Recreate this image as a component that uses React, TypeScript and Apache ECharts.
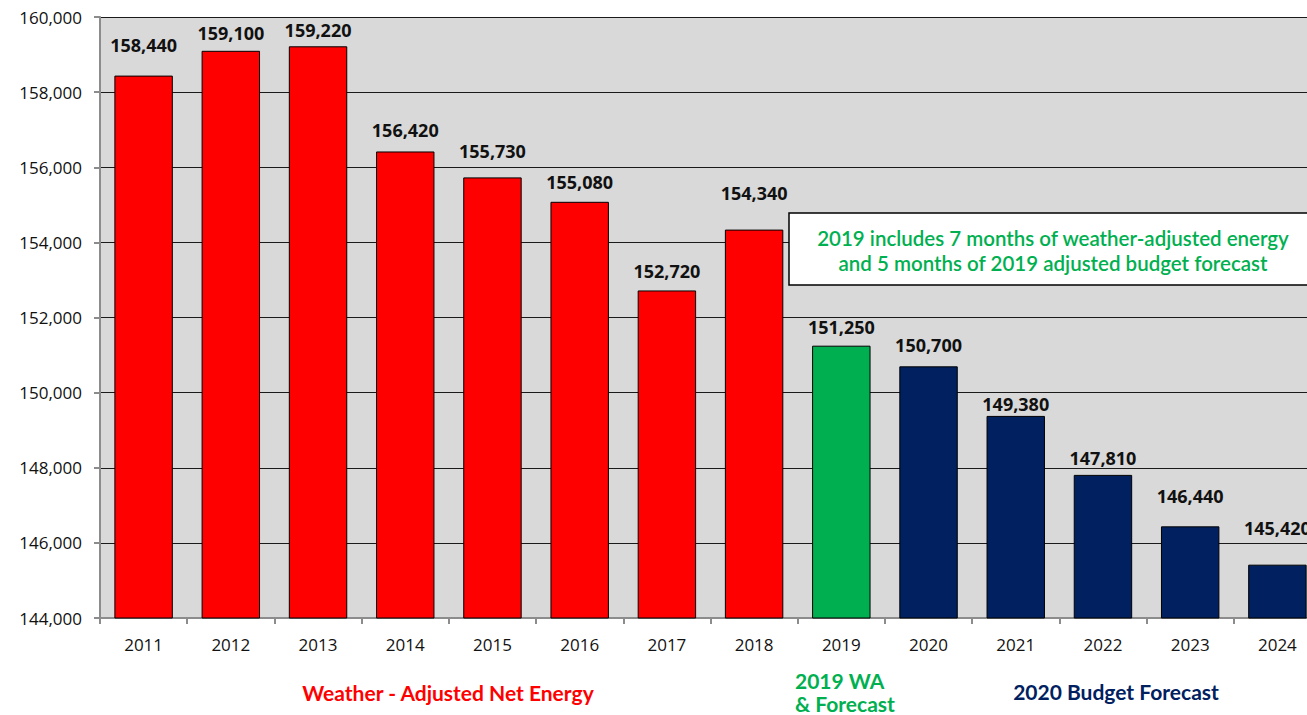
import React, { useEffect, useRef } from "react";
import * as echarts from "echarts";

const years = ["2011", "2012", "2013", "2014", "2015", "2016", "2017", "2018", "2019", "2020", "2021", "2022", "2023", "2024"];
const energy = [158440, 159100, 159220, 156420, 155730, 155080, 152720, 154340, 151250, 150700, 149380, 147810, 146440, 145420];
const groups = ["wa", "wa", "wa", "wa", "wa", "wa", "wa", "wa", "mix", "budget", "budget", "budget", "budget", "budget"];
const groupColors: Record<string, string> = { wa: "#ff0000", mix: "#00b050", budget: "#002060" };
// hand-placed label gaps above each bar (style only)
const labelGaps = [22, 9, 7, 12, 17, 11, 10, 28, 10, 12, 3, 8, 21, 28];

const FONT = "Lato, 'Open Sans', sans-serif";
const NUMFONT = "'Open Sans', Lato, sans-serif";

export default function App() {
  const ref = useRef<HTMLDivElement>(null);
  useEffect(() => {
    if (!ref.current) return;
    const chart = echarts.init(ref.current, null, { renderer: "svg" });
    chart.setOption({
      animation: false,
      backgroundColor: "#ffffff",
      grid: {
        left: 100,
        top: 17,
        width: 1221,
        height: 601,
        outerBoundsMode: "none",
        containLabel: false,
        show: true,
        backgroundColor: "#d9d9d9",
        borderWidth: 0,
      },
      xAxis: {
        type: "category",
        data: years,
        axisLine: { lineStyle: { color: "#8c8c8c", width: 2 } },
        axisTick: { show: true, length: 6, alignWithLabel: false, lineStyle: { color: "#8c8c8c", width: 2 } },
        axisLabel: { color: "#111", fontFamily: NUMFONT, fontSize: 17, margin: 18 },
      },
      yAxis: {
        type: "value",
        min: 144000,
        max: 160000,
        interval: 2000,
        axisLine: { show: true, lineStyle: { color: "#8c8c8c", width: 2 } },
        axisTick: { show: true, length: 6, lineStyle: { color: "#8c8c8c", width: 2 } },
        splitLine: { lineStyle: { color: "#1a1a1a", width: 1 } },
        axisLabel: {
          color: "#111",
          fontFamily: NUMFONT,
          fontSize: 17,
          margin: 18,
          formatter: (v: number) => v.toLocaleString("en-US"),
        },
      },
      series: [
        {
          type: "bar",
          barCategoryGap: "33%",
          data: energy.map((v, i) => ({
            value: v,
            itemStyle: { color: groupColors[groups[i]], borderColor: "#000", borderWidth: 1 },
            label: { distance: labelGaps[i] },
          })),
          label: {
            show: true,
            position: "top",
            color: "#111",
            fontFamily: NUMFONT,
            fontWeight: "bold",
            fontSize: 18,
            formatter: (p: any) => Number(p.value).toLocaleString("en-US"),
          },
        },
      ],
      graphic: [
        {
          type: "rect",
          shape: { x: 789, y: 213, width: 540, height: 72 },
          style: { fill: "#ffffff", stroke: "#000", lineWidth: 1.5 },
          z: 100,
        },
        {
          type: "text",
          x: 1053,
          y: 238,
          z: 101,
          style: {
            text: "2019 includes 7 months of weather-adjusted energy",
            fill: "#00b050",
            font: `600 20.5px ${FONT}`,
            align: "center",
            verticalAlign: "middle",
          },
        },
        {
          type: "text",
          x: 1053,
          y: 263,
          z: 101,
          style: {
            text: "and 5 months of 2019 adjusted budget forecast",
            fill: "#00b050",
            font: `600 20.5px ${FONT}`,
            align: "center",
            verticalAlign: "middle",
          },
        },
        {
          type: "text",
          x: 448,
          y: 692,
          style: {
            text: "Weather - Adjusted Net Energy",
            fill: "#ff0000",
            font: `bold 21px ${FONT}`,
            align: "center",
            verticalAlign: "middle",
          },
        },
        {
          type: "text",
          x: 795,
          y: 680,
          style: { text: "2019 WA", fill: "#00b050", font: `bold 21px ${FONT}`, align: "left", verticalAlign: "middle" },
        },
        {
          type: "text",
          x: 795,
          y: 703,
          style: { text: "& Forecast", fill: "#00b050", font: `bold 21px ${FONT}`, align: "left", verticalAlign: "middle" },
        },
        {
          type: "text",
          x: 1116,
          y: 691,
          style: {
            text: "2020 Budget Forecast",
            fill: "#002060",
            font: `bold 21px ${FONT}`,
            align: "center",
            verticalAlign: "middle",
          },
        },
      ],
    });
    return () => chart.dispose();
  }, []);
  return <div ref={ref} style={{ position: "absolute", left: 0, top: 0, width: 1307, height: 715 }} />;
}
